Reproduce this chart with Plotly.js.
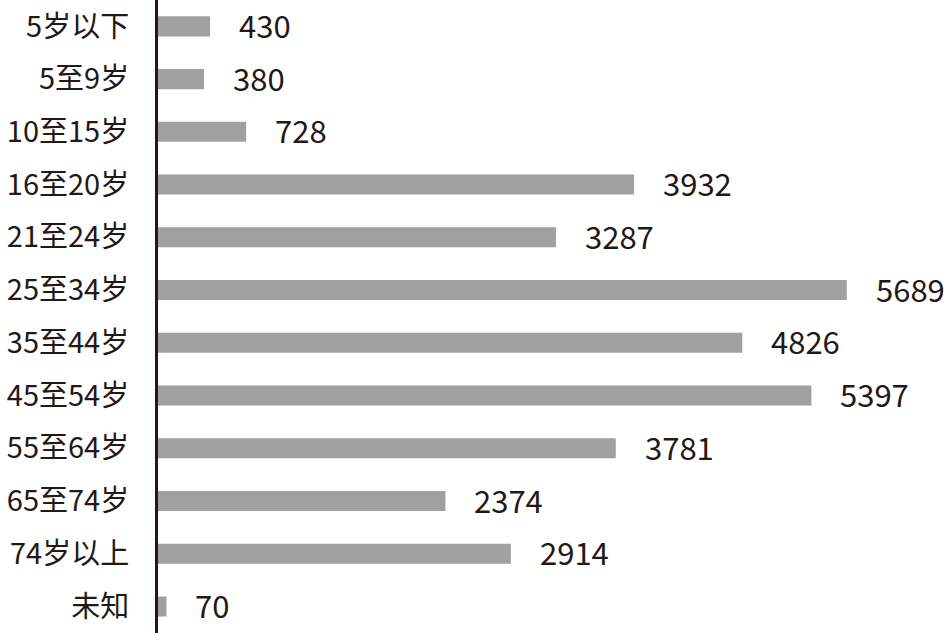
<!DOCTYPE html>
<html><head><meta charset="utf-8">
<script src="https://cdn.plot.ly/plotly-3.0.1.min.js"></script>
<style>html,body{margin:0;padding:0;background:#fff}#c{width:948px;height:633px}</style>
</head><body><div id="c"></div>
<script>
const categories = ["5岁以下","5至9岁","10至15岁","16至20岁","21至24岁","25至34岁","35至44岁","45至54岁","55至64岁","65至74岁","74岁以上","未知"];
const values = [430,380,728,3932,3287,5689,4826,5397,3781,2374,2914,70];
const valueLabels = values.map(v => String(v));

const fontFam = "'Noto Sans CJK SC', 'Noto Sans', sans-serif";
const trace = {
  type: 'bar', orientation: 'h',
  x: values, y: categories,
  marker: {color: '#a0a0a0'},
  width: 0.38,
  hoverinfo: 'none'
};
const annotations = values.map((v, i) => ({
  x: v, y: categories[i], xref: 'x', yref: 'y',
  text: valueLabels[i], showarrow: false,
  xanchor: 'left', yanchor: 'middle', xshift: 27, yshift: 2,
  font: {family: fontFam, size: 31, color: '#231815'}
}));
const layout = {
  width: 948, height: 633,
  margin: {l: 158, r: 0, t: 0, b: 0},
  paper_bgcolor: '#fff', plot_bgcolor: '#fff',
  showlegend: false,
  bargap: 0.62,
  xaxis: {range: [0, 6525], visible: false, showgrid: false, zeroline: false, fixedrange: true},
  yaxis: {
    type: 'category', autorange: 'reversed',
    showline: true, linecolor: '#231815', linewidth: 3,
    ticks: '', showgrid: false, zeroline: false,
    ticklabelstandoff: 20,
    tickfont: {family: fontFam, size: 29, color: '#231815'}
  },
  annotations: annotations
};
Plotly.newPlot('c', [trace], layout, {displayModeBar: false, staticPlot: true});
</script>
</body></html>
